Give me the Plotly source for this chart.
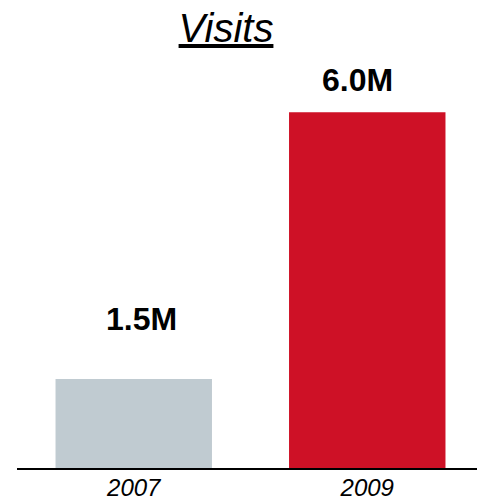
import plotly.graph_objects as go

years = ["2007", "2009"]
visits = [1.5, 6.0]
value_labels = ["1.5M", "6.0M"]
bar_colors = ["#C0CBD1", "#CE1126"]
label_xshift = [8, -10]
label_yshift = [60, 32]

FONT = "Liberation Sans, Arial, Helvetica, sans-serif"

fig = go.Figure()
fig.add_trace(go.Bar(
    x=list(range(len(years))), y=visits, width=0.67,
    marker=dict(color=bar_colors, line=dict(width=0)),
    hoverinfo="skip",
))

for i, (v, lab, xs, ys) in enumerate(zip(visits, value_labels, label_xshift, label_yshift)):
    fig.add_annotation(x=i, y=v, xref="x", yref="y", text=f"<b>{lab}</b>", showarrow=False,
                       xanchor="center", yanchor="middle", xshift=xs, yshift=ys,
                       font=dict(family=FONT, size=32, color="#000000"))

fig.update_layout(
    width=477, height=500,
    margin=dict(l=17, r=0, t=53, b=32, autoexpand=False),
    paper_bgcolor="white", plot_bgcolor="white",
    showlegend=False,
    title=dict(text="<i><u>Visits</u></i>", x=226/477, xanchor="center", xref="container",
               y=1 - 28/500, yanchor="middle",
               font=dict(family=FONT, size=40, color="#000000")),
    xaxis=dict(type="linear", range=[-0.5, 1.47], showline=True, linecolor="#000000",
               linewidth=2, ticks="", showgrid=False, zeroline=False, automargin=False,
               tickfont=dict(family=FONT, size=24, color="#000000"),
               ticktext=[f"<i>{y}</i>" for y in years], tickvals=list(range(len(years))),
               tickmode="array", ticklabelstandoff=-3),
    yaxis=dict(range=[0, 7], visible=False, showgrid=False, zeroline=False, automargin=False),
)

fig.write_html("out.html", config={"displayModeBar": False, "staticPlot": True},
               post_script="document.body.style.margin='0';document.body.style.overflow='hidden';")
